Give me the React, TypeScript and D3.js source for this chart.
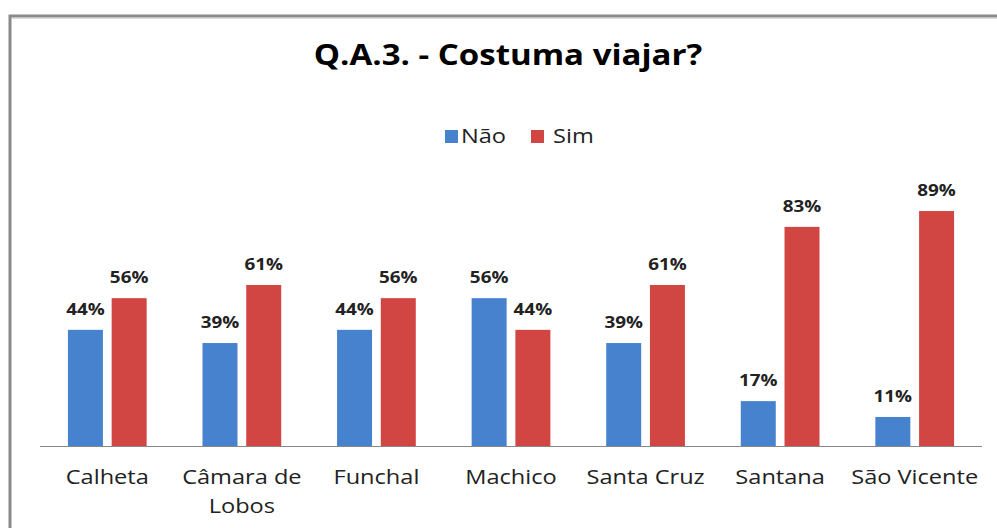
import React from 'react';
import * as d3 from 'd3';

const categories = ['Calheta', 'Câmara de Lobos', 'Funchal', 'Machico', 'Santa Cruz', 'Santana', 'São Vicente'];
const seriesNames = ['Não', 'Sim'];
const naoValues = [44, 39, 44, 56, 39, 17, 11];
const simValues = [56, 61, 56, 44, 61, 83, 89];
const colors = ['#4682CE', '#D14543'];

const W = 997;
const H = 528;
const FONT = '"Open Sans", sans-serif';
const SX = 1.18; // the source text is stretched sideways

// text stretched horizontally around its anchor point
function WideText({ x, y, anchor = 'middle', children, ...rest }: any) {
  return (
    <g transform={`translate(${x},${y}) scale(${SX},1)`}>
      <text x={0} y={0} textAnchor={anchor} {...rest}>{children}</text>
    </g>
  );
}

export default function App() {
  const x = d3.scaleBand<string>().domain(categories).range([40, 982]);
  const y = d3.scaleLinear().domain([0, 100]).range([446, 182]);
  const bw = x.bandwidth();
  const barW = bw * 0.26;
  const gap = bw * 0.065;
  const inner = d3.scaleOrdinal<string, number>()
    .domain(seriesNames)
    .range([bw / 2 - gap / 2 - barW, bw / 2 + gap / 2]);
  const series = [naoValues, simValues];

  return (
    <svg width={W} height={H} style={{ position: 'absolute', left: 0, top: 0, background: '#fff' }}>
      <style>{'body{margin:0;overflow:hidden}'}</style>
      {/* chart frame, runs past the right and bottom edges */}
      <rect x={10} y={16} width={1100} height={600} fill="#fff" stroke="#8a8a8a" strokeWidth={3} />
      <line x1={12} y1={18.5} x2={1100} y2={18.5} stroke="#ddd" strokeWidth={1} />

      <WideText x={508} y={65} fontFamily={FONT} fontWeight="bold" fontSize={28} fill="#000">
        Q.A.3. - Costuma viajar?
      </WideText>

      {/* legend */}
      <g fontFamily={FONT} fontSize={20} fill="#222">
        <rect x={445} y={130} width={13} height={13} fill={colors[0]} />
        <WideText x={461} y={143} anchor="start">{seriesNames[0]}</WideText>
        <rect x={531} y={130} width={13} height={13} fill={colors[1]} />
        <WideText x={553} y={143} anchor="start">{seriesNames[1]}</WideText>
      </g>

      {series.map((vals, si) => (
        <g key={si}>
          {vals.map((v, i) => {
            const bx = (x(categories[i]) ?? 0) + inner(seriesNames[si]);
            return (
              <g key={i}>
                <rect x={bx} y={y(v)} width={barW} height={y(0) - y(v)} fill={colors[si]} />
                <WideText x={bx + barW / 2} y={y(v) - 15} fontFamily={FONT}
                  fontWeight="bold" fontSize={16} fill="#222">{v}%</WideText>
              </g>
            );
          })}
        </g>
      ))}

      <line x1={40} x2={982} y1={446.5} y2={446.5} stroke="#888" strokeWidth={1} />

      <g fontFamily={FONT} fontSize={20} fill="#222">
        {categories.map((c) => {
          const cx = (x(c) ?? 0) + bw / 2;
          const lines = c === 'Câmara de Lobos' ? ['Câmara de', 'Lobos'] : [c];
          return lines.map((l, li) => (
            <WideText key={c + li} x={cx} y={484 + li * 29}>{l}</WideText>
          ));
        })}
      </g>
    </svg>
  );
}
